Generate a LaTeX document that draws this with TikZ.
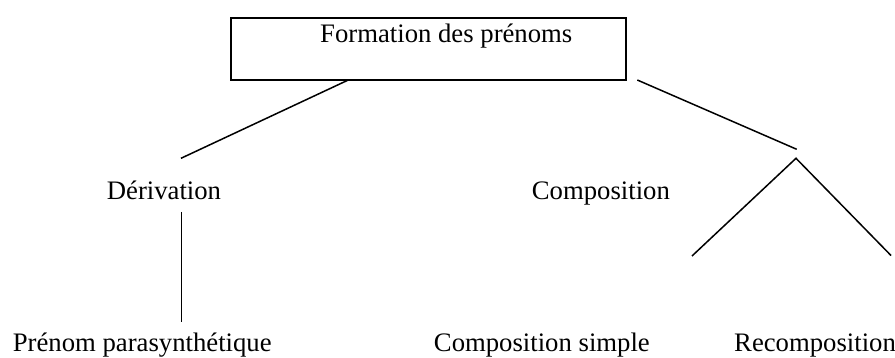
\documentclass[tikz,border=0pt]{standalone}
\usepackage{fontspec}
\setmainfont{Liberation Serif}
\begin{document}
\begin{tikzpicture}[x=1pt,y=-1pt,
  lbl/.style={anchor=base west,inner sep=0pt,font=\fontsize{26.7}{32}\selectfont},
  boxstyle/.style={draw,line width=1.8pt,inner sep=0pt,minimum width=395pt,minimum height=61.7pt},
  conn/.style={line width=1.5pt}]
\useasboundingbox (0,0) rectangle (895,358);
\node[boxstyle] (box) at (428.2,49.15) {};
\node[lbl] (title) at (320,42.3) {Formation des prénoms};
\node[lbl] (deriv) at (106.7,200) {Dérivation};
\node[lbl] (compo) at (531.7,200) {Composition};
\node[lbl] (prenom) at (12.7,352) {Prénom parasynthétique};
\node[lbl,anchor=base east] (csimple) at (650,352) {Composition simple};
\node[lbl] (recomp) at (734,352) {Recomposition};
\coordinate (l1a) at (348.3,80);
\coordinate (l1b) at (181,158.3);
\coordinate (r1a) at (637.3,80);
\coordinate (r1b) at (796.7,149.3);
\coordinate (apex) at (796,158.3);
\coordinate (tl) at (692,256);
\coordinate (tr) at (891,255.5);
\coordinate (va) at (181.7,212);
\coordinate (vb) at (181.7,321.7);
\draw[conn] (l1a) -- (l1b);
\draw[conn] (r1a) -- (r1b);
\draw[conn] (tl) -- (apex) -- (tr);
\draw[conn] (va) -- (vb);
\end{tikzpicture}
\end{document}
